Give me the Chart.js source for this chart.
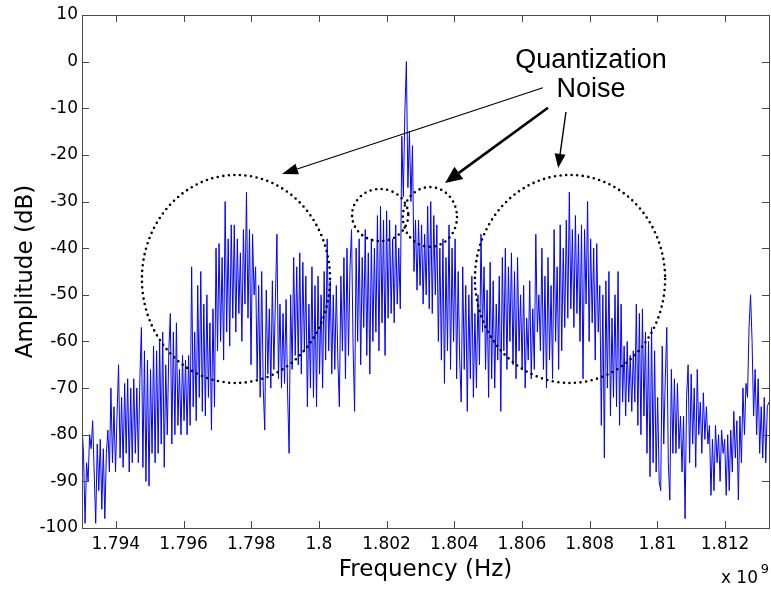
<!DOCTYPE html>
<html>
<head>
<meta charset="utf-8">
<title>Quantization Noise Spectrum</title>
<script src="https://cdn.jsdelivr.net/npm/chart.js"></script>
<style>
  html, body { margin: 0; padding: 0; background: #fff; }
  canvas { display: block; }
</style>
</head>
<body>
<canvas id="spectrum" width="771" height="590"></canvas>
<script>
// FFT bins: first bin and bin spacing (Hz)
const startHz = 1.793e9;
const binHz = 45e3;

// amplitude per bin (dB)
const amplitudeDb = [
  -78, -84, -99, -86, -90, -80, -83, -77, -88, -99,
  -82, -92, -81, -96, -83, -98, -84, -79, -88, -70,
  -86, -74, -88, -76, -65, -85, -72, -87, -69, -84,
  -68, -88, -70, -86, -68, -84, -70, -86, -68, -57,
  -87, -62, -90, -64, -91, -66, -84, -61, -86, -62,
  -84, -60, -82, -58, -87, -65, -80, -62, -54, -82,
  -58, -80, -56, -78, -66, -80, -63, -77, -64, -80,
  -63, -78, -44, -74, -58, -77, -48, -72, -45, -75,
  -52, -76, -50, -72, -56, -79, -53, -74, -40, -62,
  -39, -60, -42, -64, -30, -58, -38, -61, -35, -55,
  -35, -58, -38, -54, -41, -60, -36, -52, -28, -55,
  -36, -65, -37, -50, -44, -68, -48, -72, -45, -70,
  -79, -49, -67, -53, -70, -47, -66, -51, -37, -68,
  -52, -70, -54, -69, -51, -71, -84, -50, -66, -42,
  -63, -44, -65, -41, -67, -43, -62, -46, -74, -52,
  -70, -44, -72, -48, -74, -46, -67, -50, -70, -45,
  -64, -38, -62, -47, -67, -50, -66, -48, -64, -74,
  -46, -62, -42, -68, -40, -63, -44, -36, -61, -75,
  -40, -60, -38, -65, -42, -57, -36, -63, -41, -67,
  -38, -60, -40, -58, -33, -62, -31, -56, -34, -63,
  -32, -55, -34, -54, -38, -56, -35, -52, -40, -53,
  -16, -29, -11,   0, -27, -15, -30, -18, -45, -34,
  -49, -34, -48, -35, -52, -37, -50, -31, -53, -30,
  -54, -33, -50, -35, -60, -40, -64, -38, -69, -42,
  -62, -35, -66, -40, -60, -38, -68, -45, -64, -73,
  -44, -66, -48, -75, -50, -68, -46, -72, -54, -70,
  -50, -65, -37, -58, -44, -66, -49, -72, -43, -68,
  -47, -70, -52, -64, -46, -75, -42, -62, -40, -66,
  -44, -60, -41, -65, -45, -68, -42, -62, -50, -66,
  -48, -70, -55, -64, -47, -68, -53, -66, -37, -58,
  -50, -62, -40, -66, -46, -70, -42, -64, -48, -68,
  -36, -60, -44, -66, -35, -62, -40, -57, -34, -55,
  -28, -53, -36, -57, -33, -54, -37, -60, -35, -68,
  -36, -52, -30, -60, -38, -56, -40, -64, -39, -58,
  -48, -78, -50, -85, -47, -70, -45, -76, -55, -72,
  -50, -74, -45, -78, -52, -73, -61, -76, -60, -73,
  -63, -75, -62, -73, -52, -78, -54, -80, -53, -76,
  -58, -84, -60, -89, -57, -86, -62, -88, -72, -90,
  -92, -61, -82, -68, -57, -86, -94, -66, -84, -68,
  -84, -69, -83, -76, -88, -76, -98, -72, -65, -86,
  -67, -82, -70, -87, -66, -80, -73, -84, -71, -81,
  -74, -82, -78, -93, -81, -92, -78, -86, -80, -90,
  -79, -84, -81, -93, -80, -92, -79, -88, -75, -85,
  -77, -94, -76, -86, -70, -80, -69, -72, -57, -50,
  -60, -76, -66, -80, -68, -84, -74, -85, -72, -86,
  -74, -73
];

const freqTicks = [1.794e9, 1.796e9, 1.798e9, 1.8e9, 1.802e9, 1.804e9, 1.806e9, 1.808e9, 1.81e9, 1.812e9];
const ampTicks = [-100, -90, -80, -70, -60, -50, -40, -30, -20, -10, 0, 10];

// annotation: dotted rings (centre / radius in MHz and dB) and arrows (MHz, dB)
const rings = [
  { f: 1797.55, db: -46.6, rf: 2.78, rdb: 22.3 },
  { f: 1801.81, db: -32.9, rf: 0.83, rdb: 5.6 },
  { f: 1803.28, db: -33.3, rf: 0.80, rdb: 6.4 },
  { f: 1807.42, db: -46.6, rf: 2.81, rdb: 22.3 }
];
const arrows = [
  { from: [1806.62, -5.6], to: [1798.91, -24.1], w: 1.2, len: 16, head: 11 },
  { from: [1806.77, -9.9], to: [1803.73, -26.0], w: 2.6, len: 17, head: 15 },
  { from: [1807.30, -10.8], to: [1807.07, -22.8], w: 1.4, len: 14, head: 11 }
];
const label = { f: 1808.04, lines: ['Quantization', 'Noise'], db: [0.3, -5.9] };

const points = amplitudeDb.map((v, i) => ({ x: startHz + i * binHz, y: v }));

function drawArrow(ctx, x0, y0, x1, y1, w, len, head) {
  const a = Math.atan2(y1 - y0, x1 - x0);
  const bx = x1 - len * Math.cos(a), by = y1 - len * Math.sin(a);
  ctx.lineWidth = w;
  ctx.beginPath();
  ctx.moveTo(x0, y0);
  ctx.lineTo(bx, by);
  ctx.stroke();
  ctx.beginPath();
  ctx.moveTo(x1, y1);
  ctx.lineTo(bx + head / 2 * Math.sin(a), by - head / 2 * Math.cos(a));
  ctx.lineTo(bx - head / 2 * Math.sin(a), by + head / 2 * Math.cos(a));
  ctx.closePath();
  ctx.fill();
}

const overlay = {
  id: 'overlay',
  afterDatasetsDraw(chart) {
    const { ctx, chartArea: a, scales: { x, y } } = chart;
    const px = mhz => x.getPixelForValue(mhz * 1e6);
    ctx.save();

    // box and inward ticks on all four sides
    ctx.strokeStyle = '#4a4a4a';
    ctx.lineWidth = 1;
    ctx.strokeRect(a.left + 0.5, a.top + 0.5, a.right - a.left, a.bottom - a.top);
    ctx.beginPath();
    freqTicks.forEach(v => {
      const p = Math.round(x.getPixelForValue(v)) + 0.5;
      ctx.moveTo(p, a.bottom); ctx.lineTo(p, a.bottom - 7);
      ctx.moveTo(p, a.top); ctx.lineTo(p, a.top + 7);
    });
    ampTicks.forEach(v => {
      const p = Math.round(y.getPixelForValue(v)) + 0.5;
      ctx.moveTo(a.left, p); ctx.lineTo(a.left + 7, p);
      ctx.moveTo(a.right, p); ctx.lineTo(a.right - 7, p);
    });
    ctx.stroke();

    // dotted rings
    ctx.strokeStyle = '#000';
    ctx.fillStyle = '#000';
    ctx.lineWidth = 2.6;
    ctx.lineCap = 'round';
    ctx.setLineDash([0, 5.6]);
    rings.forEach(r => {
      const cx = px(r.f), cy = y.getPixelForValue(r.db);
      const rx = px(r.f + r.rf) - cx;
      const ry = y.getPixelForValue(r.db - r.rdb) - cy;
      ctx.beginPath();
      ctx.ellipse(cx, cy, rx, ry, 0, 0, Math.PI * 2);
      ctx.stroke();
    });
    ctx.setLineDash([]);
    ctx.lineCap = 'butt';

    arrows.forEach(ar => {
      drawArrow(ctx, px(ar.from[0]), y.getPixelForValue(ar.from[1]),
        px(ar.to[0]), y.getPixelForValue(ar.to[1]), ar.w, ar.len, ar.head);
    });

    ctx.font = '27px "Liberation Sans", Arial, sans-serif';
    ctx.textAlign = 'center';
    ctx.textBaseline = 'middle';
    label.lines.forEach((t, i) => {
      ctx.fillText(t, px(label.f), y.getPixelForValue(label.db[i]));
    });

    // exponent note under the x axis
    ctx.textAlign = 'right';
    ctx.textBaseline = 'alphabetic';
    ctx.font = '17px "DejaVu Sans", sans-serif';
    ctx.fillText('x 10', a.right - 11, 583);
    ctx.font = '13px "DejaVu Sans", sans-serif';
    ctx.fillText('9', a.right, 573);
    ctx.restore();
  }
};

new Chart(document.getElementById('spectrum'), {
  type: 'line',
  data: {
    datasets: [{
      data: points,
      borderColor: '#0000ff',
      borderWidth: 1,
      pointRadius: 0,
      tension: 0,
      fill: false
    }]
  },
  options: {
    responsive: false,
    animation: false,
    events: [],
    layout: { padding: { top: 15, right: 2, left: 0, bottom: 0 } },
    plugins: { legend: { display: false }, tooltip: { enabled: false } },
    scales: {
      x: {
        type: 'linear',
        min: startHz,
        max: 1.8133e9,
        grid: { display: false, drawTicks: false },
        border: { display: false },
        afterBuildTicks: s => { s.ticks = freqTicks.map(v => ({ value: v })); },
        afterFit: s => { s.height = 62; },
        ticks: {
          autoSkip: false,
          maxRotation: 0,
          padding: 6,
          color: '#000',
          font: { family: '"DejaVu Sans", sans-serif', size: 17 },
          callback: v => String(+(v / 1e9).toFixed(3))
        },
        title: {
          display: true,
          text: 'Frequency (Hz)',
          color: '#000',
          font: { family: '"DejaVu Sans", sans-serif', size: 23 },
          padding: { top: 0, bottom: 6 }
        }
      },
      y: {
        min: -100,
        max: 10,
        grid: { display: false, drawTicks: false },
        border: { display: false },
        afterBuildTicks: s => { s.ticks = ampTicks.map(v => ({ value: v })); },
        afterFit: s => { s.width = 82; },
        ticks: {
          padding: 4,
          color: '#000',
          font: { family: '"DejaVu Sans", sans-serif', size: 17 },
          callback: v => String(v)
        },
        title: {
          display: true,
          text: 'Amplitude (dB)',
          color: '#000',
          font: { family: '"DejaVu Sans", sans-serif', size: 23 },
          padding: { top: 12, bottom: 0 }
        }
      }
    }
  },
  plugins: [overlay]
});
</script>
</body>
</html>
